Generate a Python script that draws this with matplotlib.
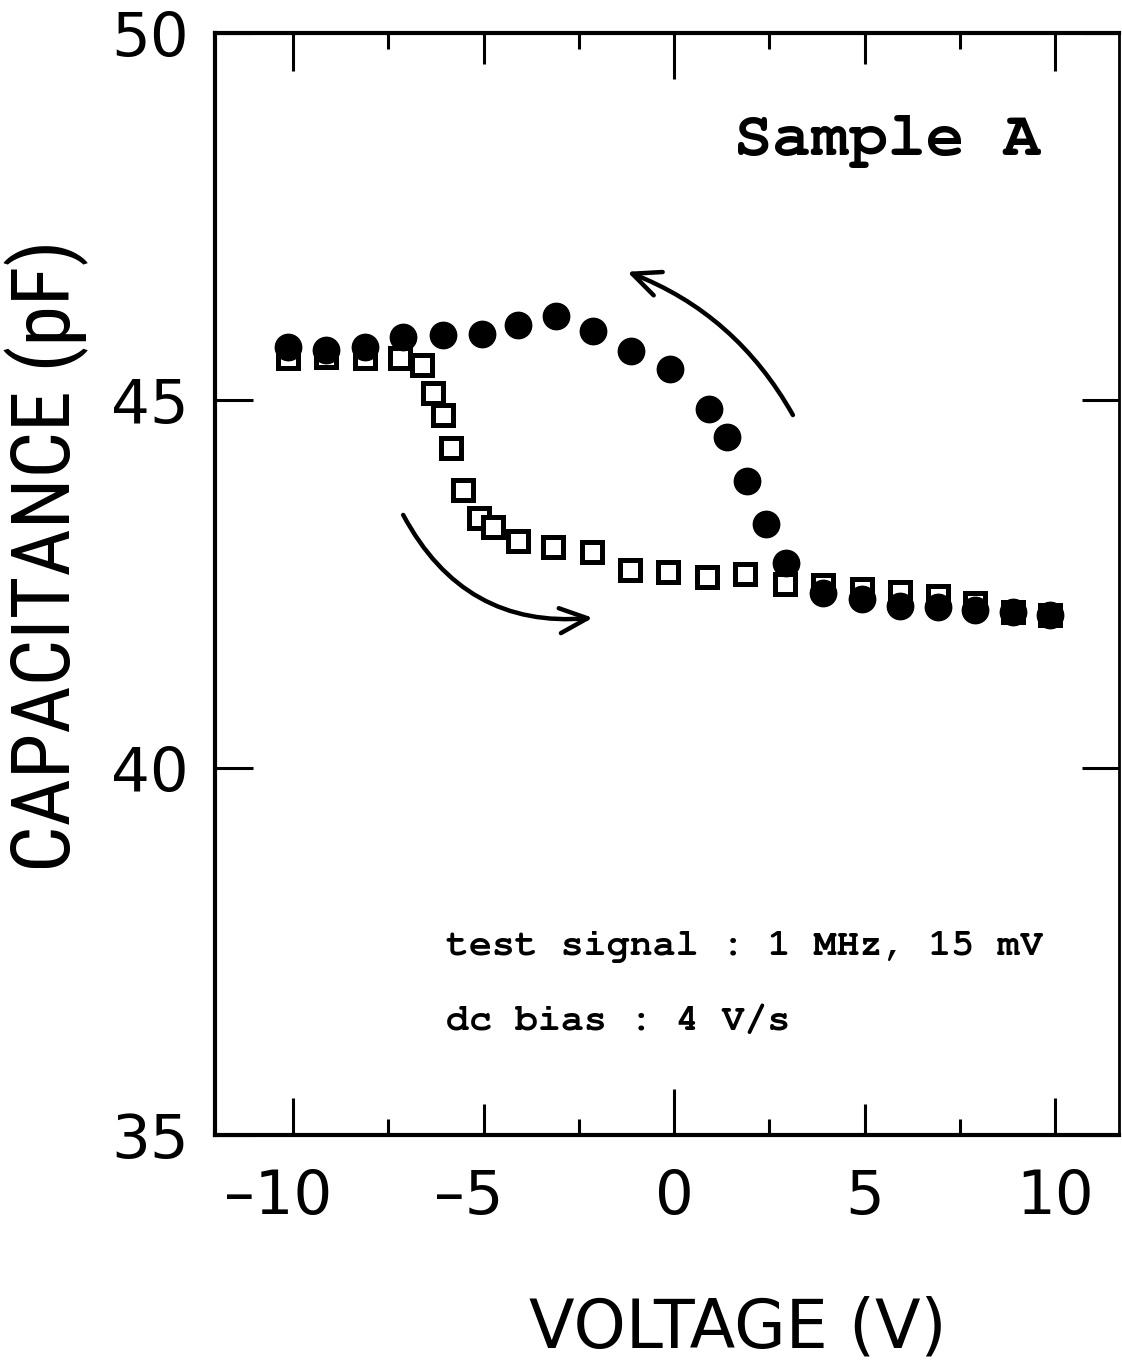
import matplotlib
matplotlib.use("Agg")
import matplotlib.pyplot as plt
from matplotlib.patches import FancyArrowPatch
from matplotlib.transforms import ScaledTranslation, blended_transform_factory

# Sweep from +10 V toward -10 V (filled circles)
v_down = [-10.13, -9.13, -8.11, -7.11, -6.06, -5.04, -4.09, -3.10, -2.13, -1.13,
          -0.10, 0.92, 1.39, 1.92, 2.41, 2.94, 3.91, 4.93, 5.93, 6.93, 7.90, 8.90, 9.87]
c_down = [45.73, 45.69, 45.73, 45.86, 45.89, 45.90, 46.03, 46.15, 45.95, 45.67,
          45.43, 44.88, 44.50, 43.90, 43.32, 42.78, 42.38, 42.30, 42.20, 42.19, 42.15, 42.12, 42.08]

# Sweep from -10 V toward +10 V (open squares)
v_up = [-10.13, -9.13, -8.11, -7.20, -6.61, -6.33, -6.06, -5.85, -5.54, -5.12, -4.75,
        -4.09, -3.18, -2.15, -1.15, -0.16, 0.87, 1.86, 2.91, 3.91, 4.93, 5.93, 6.93, 7.90, 8.90, 9.87]
c_up = [45.58, 45.59, 45.58, 45.58, 45.48, 45.10, 44.80, 44.35, 43.78, 43.40, 43.27,
        43.08, 43.01, 42.93, 42.69, 42.67, 42.60, 42.63, 42.50, 42.48, 42.43, 42.39, 42.33, 42.24, 42.12, 42.08]

x_major = [-10, -5, 0, 5, 10]
x_minor = [-7.5, -2.5, 2.5, 7.5]
x_labels = ["\u201310", "\u20135", "0", "5", "10"]
y_major = [35, 40, 45, 50]
y_labels = ["35", "40", "45", "50"]

W, H = 1122, 1361
fig = plt.figure(figsize=(W / 100, H / 100), dpi=100)
ax = fig.add_axes([215 / W, 1 - 1135 / H, (1119 - 215) / W, (1135 - 33) / H])
ax.set_xlim(-12.05, 11.68)
ax.set_ylim(35, 50)

for s in ax.spines.values():
    s.set_linewidth(3.0)
ax.spines["right"].set_linewidth(2.0)

# ticks
ax.set_xticks(x_major)
ax.set_xticks(x_minor, minor=True)
ax.tick_params(axis="x", which="both", direction="in", top=True, bottom=True,
               labelbottom=False, width=2.2)
ax.tick_params(axis="x", which="major", length=26)
ax.tick_params(axis="x", which="minor", length=11.5)
major_len = [27, 22, 33, 22, 27]
for tk, L in zip(ax.xaxis.get_major_ticks(), major_len):
    tk.tick1line.set_markersize(L)
    tk.tick2line.set_markersize(L)

ax.set_yticks(y_major)
ax.set_yticklabels(y_labels, fontsize=44, family="DejaVu Sans")
ax.tick_params(axis="y", direction="in", left=True, right=True, length=27,
               width=2.2, pad=19)

# x tick labels: digits centred on the tick, dash hanging to the left
fs_tick = 44
trans = blended_transform_factory(ax.transData, ax.transAxes)
for v, lab in zip(x_major, x_labels):
    off = 0.0
    if lab.startswith("\u2013"):
        off = -0.5 * fs_tick / 2 / 72.0
    t = trans + ScaledTranslation(off, 0, fig.dpi_scale_trans)
    ax.text(v, -0.0715, lab, transform=t, ha="center", va="baseline",
            fontsize=fs_tick, family="DejaVu Sans", clip_on=False)

# data
ax.plot(v_up, c_up, ls="none", marker="s", ms=14.5, mfc="white", mec="black",
        mew=3.6, zorder=3, clip_on=False)
ax.plot(v_down, c_down, ls="none", marker="o", ms=19, color="black",
        mec="black", zorder=4, clip_on=False)

# sweep direction arrows
arrow_kw = dict(arrowstyle="->,head_length=1.0,head_width=0.45", mutation_scale=20,
                lw=3.2, color="black", shrinkA=0, shrinkB=0, zorder=5)
ax.add_patch(FancyArrowPatch((3.12, 44.80), (-1.23, 46.75),
                             connectionstyle="arc3,rad=0.18", **arrow_kw))
ax.add_patch(FancyArrowPatch((-7.11, 43.44), (-2.13, 42.04),
                             connectionstyle="arc3,rad=0.33", **arrow_kw))

# annotations
mono = ["Nimbus Mono PS", "Courier New", "FreeMono", "Liberation Mono"]
ax.text(0.574, 0.889, "Sample A", transform=ax.transAxes, ha="left",
        va="baseline", fontsize=46, family=mono, fontweight="bold")
ax.text(0.256, 0.163, "test signal : 1 MHz, 15 mV", transform=ax.transAxes,
        ha="left", va="baseline", fontsize=27.5, family=mono, fontweight="bold")
ax.text(0.256, 0.095, "dc bias : 4 V/s", transform=ax.transAxes,
        ha="left", va="baseline", fontsize=27.5, family=mono, fontweight="bold")

# axis titles
fig.text(738 / W, 1 - 1328 / H, "VOLTAGE (V)", ha="center", va="center",
         fontsize=48, family="DejaVu Sans")
fig.text(47 / W, 1 - 556 / H, "CAPACITANCE (pF)", ha="center", va="center",
         rotation=90, fontsize=59,
         family=["Roboto Condensed", "Open Sans Condensed", "Roboto"])

fig.savefig("out.png", dpi=100)
